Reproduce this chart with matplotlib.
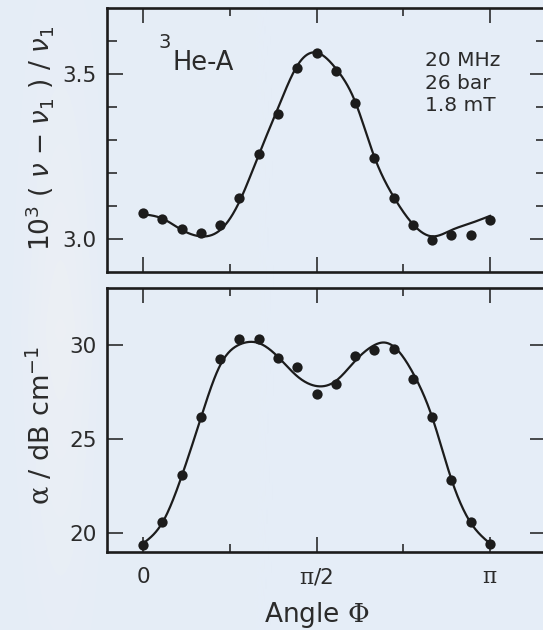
import numpy as np
import matplotlib
matplotlib.use("Agg")
import matplotlib.pyplot as plt
from matplotlib.ticker import FixedLocator, NullFormatter, FixedFormatter

plt.rcParams['font.family'] = ['DejaVu Sans']
plt.rcParams['mathtext.fontset'] = 'custom'
plt.rcParams['mathtext.rm'] = 'DejaVu Serif'
plt.rcParams['mathtext.sf'] = 'DejaVu Sans'
plt.rcParams['mathtext.it'] = 'DejaVu Sans:italic'
plt.rcParams['mathtext.bf'] = 'DejaVu Sans:bold'

# ---- measured data (angle in degrees) ----
angle_deg = [0, 10, 20, 30, 40, 50, 60, 70, 80, 90,
             100, 110, 120, 130, 140, 150, 160, 170, 180]
shift_meas = [3.078, 3.061, 3.029, 3.017, 3.041, 3.125, 3.257, 3.379, 3.518, 3.563,
              3.508, 3.411, 3.245, 3.125, 3.042, 2.997, 3.011, 3.013, 3.057]
atten_meas = [19.38, 20.57, 23.06, 26.15, 29.25, 30.28, 30.28, 29.31, 28.81, 27.39,
              27.90, 29.39, 29.73, 29.75, 28.19, 26.15, 22.84, 20.57, 19.41]

# ---- theoretical curves, sampled ----
shift_fit_deg = [0, 10, 20, 30, 40, 50, 60, 70, 80, 90,
                 100, 110, 120, 130, 140, 150, 160, 170, 180]
shift_fit = [3.075, 3.062, 3.028, 3.008, 3.027, 3.113, 3.255, 3.396, 3.525, 3.565,
             3.517, 3.417, 3.249, 3.128, 3.045, 3.008, 3.027, 3.048, 3.070]
atten_fit_deg = [0, 10, 20, 30, 40, 50, 55, 60, 70, 80, 90,
                 100, 110, 120, 125, 130, 140, 150, 160, 170, 180]
atten_fit = [19.45, 20.55, 23.0, 26.1, 28.9, 30.0, 30.14, 30.08, 29.35, 28.32, 27.80,
             28.07, 29.13, 29.97, 30.11, 29.9, 28.5, 26.15, 22.85, 20.55, 19.45]

x_tick_labels = ['0', r'$\mathrm{\pi}$/2', r'$\mathrm{\pi}$']
conditions = ['20 MHz', '26 bar', '1.8 mT']


def natural_spline(xk, yk, xs):
    xk = np.asarray(xk, float)
    yk = np.asarray(yk, float)
    n = len(xk)
    h = np.diff(xk)
    A = np.zeros((n, n))
    r = np.zeros(n)
    A[0, 0] = A[-1, -1] = 1.0
    for i in range(1, n - 1):
        A[i, i - 1] = h[i - 1]
        A[i, i] = 2 * (h[i - 1] + h[i])
        A[i, i + 1] = h[i]
        r[i] = 3 * ((yk[i + 1] - yk[i]) / h[i] - (yk[i] - yk[i - 1]) / h[i - 1])
    c = np.linalg.solve(A, r)
    b = (yk[1:] - yk[:-1]) / h - h * (2 * c[:-1] + c[1:]) / 3
    d = (c[1:] - c[:-1]) / (3 * h)
    idx = np.clip(np.searchsorted(xk, xs) - 1, 0, n - 2)
    dx = xs - xk[idx]
    return yk[idx] + b[idx] * dx + c[idx] * dx ** 2 + d[idx] * dx ** 3


BG = '#e5edf7'
INK = '#1c1c1c'
TXT = '#2b2b2b'

fig = plt.figure(figsize=(5.43, 6.30), dpi=100, facecolor=BG)

# soft backdrop with a faint pale vertical band at the left
bg_ax = fig.add_axes([0, 0, 1, 1], zorder=-10)
bg_ax.set_axis_off()
W, H = 543, 630
xx = np.arange(W)[None, :]
yy = np.arange(H)[:, None]
base = np.array([229, 237, 247]) / 255.0
pale = np.array([238, 240, 244]) / 255.0
band = np.exp(-((xx - 60) / 35.0) ** 2) * np.clip(1 - np.abs(yy - 330) / 420.0, 0, 1) * 0.8
img = base[None, None, :] * (1 - band[..., None]) + pale[None, None, :] * band[..., None]
bg_ax.imshow(img, aspect='auto', extent=[0, 1, 0, 1], origin='upper')
bg_ax.set_xlim(0, 1)
bg_ax.set_ylim(0, 1)

xmin, xmax = -0.326, np.pi + 0.507
left = 107 / W
width = (546 - 107) / W
ax1 = fig.add_axes([left, 1 - 272 / H, width, 264 / H])
ax2 = fig.add_axes([left, 1 - 552 / H, width, 264 / H])

xs = np.linspace(0, np.pi, 600)
xs_deg = np.degrees(xs)

for ax in (ax1, ax2):
    ax.set_facecolor('none')
    ax.set_xlim(xmin, xmax)
    for s in ax.spines.values():
        s.set_linewidth(1.9)
        s.set_color(INK)
    ax.xaxis.set_major_locator(FixedLocator([0, np.pi / 2, np.pi]))
    ax.xaxis.set_minor_locator(FixedLocator([np.pi / 4, 3 * np.pi / 4]))
    ax.tick_params(axis='both', which='both', direction='in', top=True, right=True,
                   color=INK, width=1.1, labelsize=15.5, labelcolor=TXT)
    ax.tick_params(axis='x', which='major', length=10.8, pad=10.5)
    ax.tick_params(axis='x', which='minor', length=5.8)
    ax.tick_params(axis='y', which='major', length=11.5, pad=7.5)
    ax.tick_params(axis='y', which='minor', length=7.0)

ang = np.radians(angle_deg)

# upper panel: relative frequency shift
ax1.plot(xs, natural_spline(shift_fit_deg, shift_fit, xs_deg), color=INK, lw=1.6, zorder=2)
ax1.plot(ang, shift_meas, 'o', color=INK, ms=7.4, mec='none', zorder=3)
ax1.set_ylim(2.9, 3.7)
ax1.yaxis.set_major_locator(FixedLocator([3.0, 3.5]))
ax1.yaxis.set_minor_locator(FixedLocator([3.1, 3.2, 3.3, 3.4, 3.6]))
ax1.yaxis.set_major_formatter(FixedFormatter(['3.0', '3.5']))
ax1.xaxis.set_major_formatter(NullFormatter())
ax1.text(-0.130, 0.506,
         r'10$^{\mathsf{3}}$ ( $\nu$ $\mathsf{-}$ $\nu_{\mathsf{1}}$ ) / $\nu_{\mathsf{1}}$',
         transform=ax1.transAxes, rotation=90, rotation_mode='anchor',
         ha='center', va='baseline', fontsize=19, color=TXT)
ax1.text(0.140, 3.578, '3', fontsize=14, color=TXT, va='baseline', ha='left')
ax1.text(0.268, 3.512, 'He-A', fontsize=18.5, color=TXT, va='baseline', ha='left')
for txt, yb in zip(conditions, [3.525, 3.455, 3.389]):
    ax1.text(2.553, yb, txt, fontsize=14.5, color=TXT, va='baseline', ha='left')

# lower panel: attenuation
ax2.plot(xs, natural_spline(atten_fit_deg, atten_fit, xs_deg), color=INK, lw=1.6, zorder=2)
ax2.plot(ang, atten_meas, 'o', color=INK, ms=7.4, mec='none', zorder=3)
ax2.set_ylim(19, 33)
ax2.yaxis.set_major_locator(FixedLocator([20, 25, 30]))
ax2.yaxis.set_minor_locator(FixedLocator([]))
ax2.xaxis.set_major_formatter(FixedFormatter(x_tick_labels))
ax2.text(-0.130, 0.481, r'$\mathrm{\alpha}$ / dB cm$^{\mathsf{-1}}$',
         transform=ax2.transAxes, rotation=90, rotation_mode='anchor',
         ha='center', va='baseline', fontsize=19.5, color=TXT)
ax2.text(np.pi / 2, -0.265, r'Angle $\mathrm{\Phi}$', fontsize=19, color=TXT,
         ha='center', va='baseline', transform=ax2.get_xaxis_transform())

fig.savefig('out.png', dpi=100, facecolor=BG)
